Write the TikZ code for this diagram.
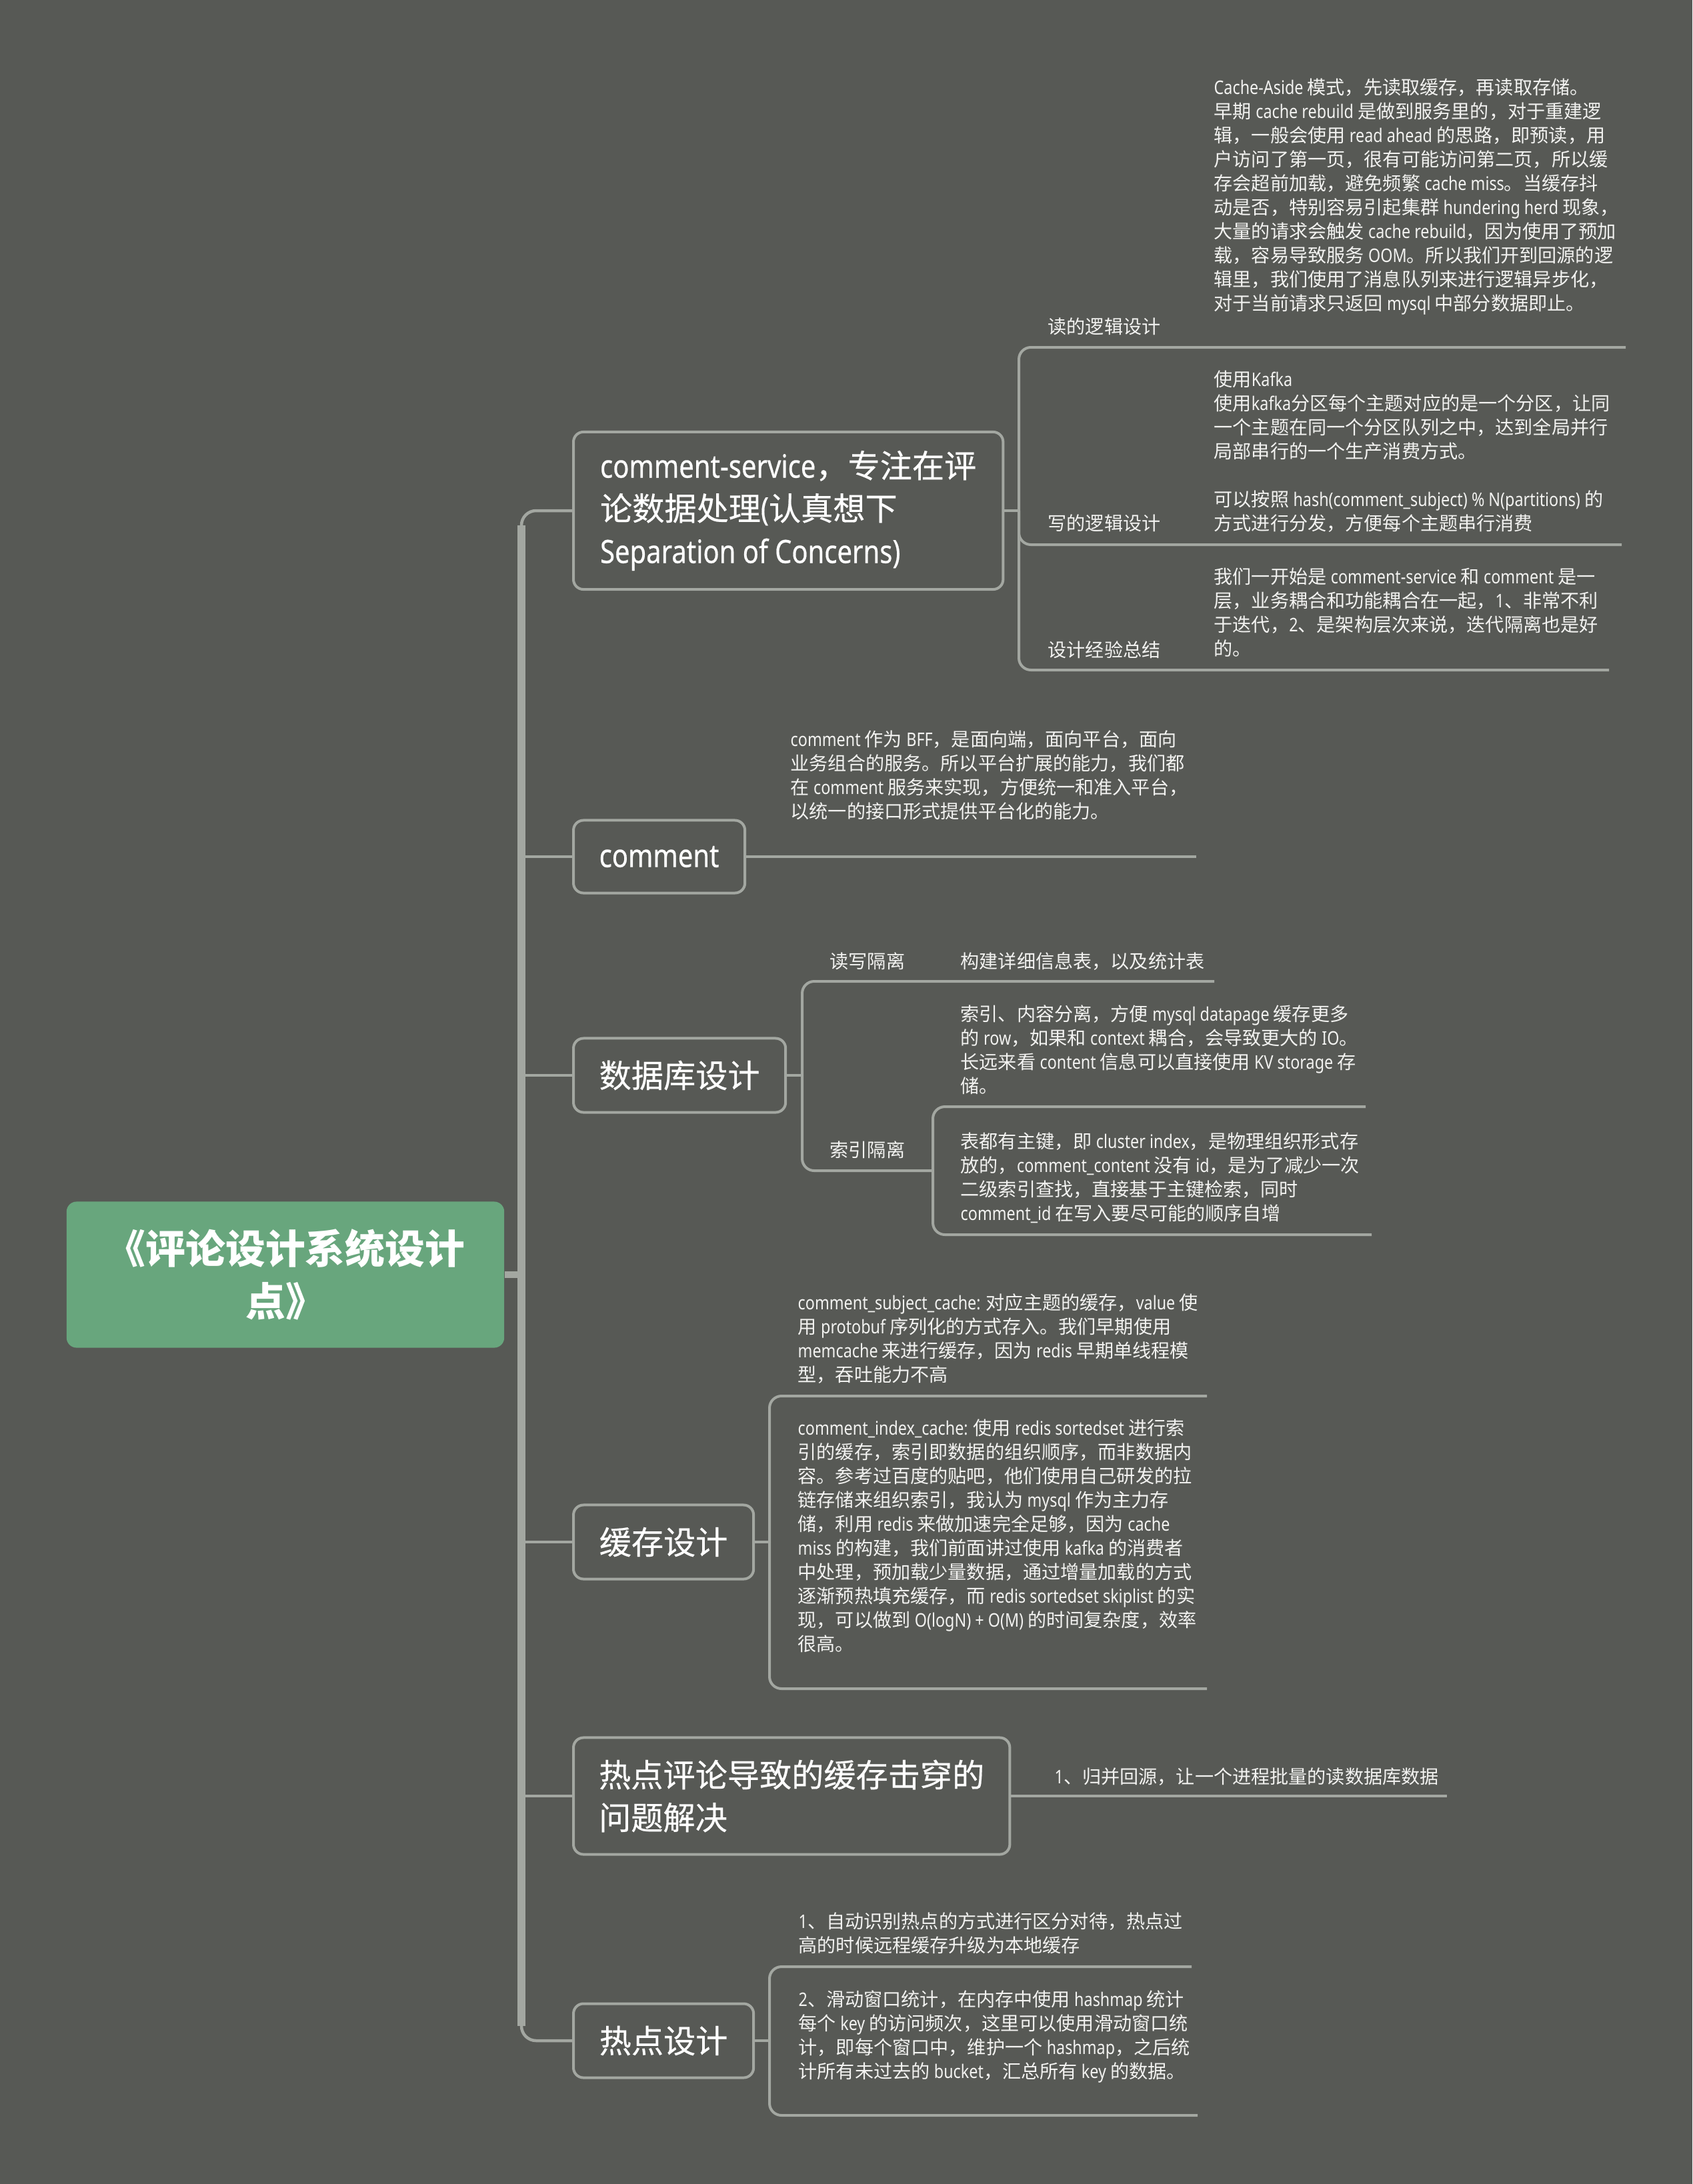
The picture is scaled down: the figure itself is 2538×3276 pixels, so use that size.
\documentclass[tikz,border=0pt]{standalone}
\usepackage{fontspec}
\setmainfont{Noto Sans}[FakeStretch=0.83]
\newfontfamily\latinfont{Noto Sans}[FakeStretch=0.83]
\newfontfamily\cjkfont{Noto Sans CJK SC}
\newfontfamily\latinheavy{Noto Sans}[FakeStretch=0.83,FakeBold=0.4]
\newfontfamily\cjkheavy{Noto Sans CJK SC}[FakeBold=0.4]
\let\latinsw\latinfont
\let\cjksw\cjkfont
\XeTeXinterchartokenstate=1
\newXeTeXintercharclass\cjkclass
\newcount\cjkcnt
\def\setcjkrange#1#2{\cjkcnt=#1 \loop\XeTeXcharclass\cjkcnt=\cjkclass\advance\cjkcnt by 1 \ifnum\cjkcnt<#2 \repeat}
\setcjkrange{"3000}{"3040}
\setcjkrange{"4E00}{"A000}
\setcjkrange{"FF00}{"FFF0}
\XeTeXinterchartoks 0 \cjkclass={\cjksw}
\XeTeXinterchartoks 4095 \cjkclass={\cjksw}
\XeTeXinterchartoks \cjkclass 0={\latinsw}
\XeTeXinterchartoks 4095 0={\latinsw}
\usetikzlibrary{positioning}
\definecolor{canvas}{RGB}{87,89,85}
\definecolor{wire}{RGB}{163,167,161}
\definecolor{rootgreen}{RGB}{104,166,125}
\definecolor{ink}{RGB}{242,242,240}
\tikzstyle{rootbox}=[fill=rootgreen,rounded corners=0.15cm,minimum width=6.56cm,minimum height=2.19cm,inner sep=0pt,align=center,text=white,font=\fontsize{17pt}{22.5pt}\selectfont\bfseries]
\tikzstyle{topic}=[draw=wire,line width=0.04cm,rounded corners=0.15cm,anchor=west,inner sep=0pt,align=left,text=white,font=\let\latinsw\latinheavy\let\cjksw\cjkheavy\latinsw\fontsize{13.7pt}{18.2pt}\selectfont]
\tikzstyle{memo}=[anchor=north west,yshift=0.02cm,inner sep=0pt,align=left,text=ink,font=\fontsize{8pt}{10.24pt}\selectfont]
\tikzstyle{tag}=[anchor=west,inner sep=0pt,text=ink,font=\fontsize{8pt}{10.24pt}\selectfont]
\tikzstyle{trunkline}=[wire,line width=0.12cm]
\tikzstyle{branchline}=[wire,line width=0.045cm]
\tikzstyle{subline}=[wire,line width=0.04cm]

\begin{document}
\begin{tikzpicture}[x=0.01cm,y=-0.01cm]

\fill[canvas] (0,0) rectangle (2538,3276);
\useasboundingbox (0,0) rectangle (2538,3276);

\node[rootbox] (root) at (428,1912) {《评论设计系统设计\\点》};

\node[topic,minimum width=6.44cm,minimum height=2.36cm] (cs) at (858,766) {comment-service，专注在评\\论数据处理(认真想下\\Separation of Concerns)};
\node[topic,minimum width=2.57cm,minimum height=1.09cm] (cm) at (858,1285) {comment};
\node[topic,minimum width=3.18cm,minimum height=1.11cm] (db) at (858,1613) {数据库设计};
\node[topic,minimum width=2.70cm,minimum height=1.11cm] (ca) at (858,2313) {缓存设计};
\node[topic,minimum width=6.54cm,minimum height=1.75cm] (hp) at (858,2694) {热点评论导致的缓存击穿的\\问题解决};
\node[topic,minimum width=2.70cm,minimum height=1.11cm] (hd) at (858,3061) {热点设计};

\coordinate (tk) at (782,1912);
\coordinate (ttop) at (782,788);
\coordinate (tbot) at (782,3039);
\draw[branchline,line width=0.1cm] (root.east) -- (tk);
\draw[branchline,rounded corners=0.22cm] (cs.west) -| (tk) |- (hd.west);
\draw[trunkline] (ttop) -- (tbot);
\draw[branchline] (cm.west -| tk) -- (cm.west);
\draw[branchline] (db.west -| tk) -- (db.west);
\draw[branchline] (ca.west -| tk) -- (ca.west);
\draw[branchline] (hp.west -| tk) -- (hp.west);

\node[tag] (readtag) at (1571,490) {读的逻辑设计};
\node[tag] (writetag) at (1571,785) {写的逻辑设计};
\node[tag] (sumtag) at (1571,975) {设计经验总结};
\node[memo] (readtxt) at (1820,119) {Cache-Aside 模式，先读取缓存，再读取存储。\\早期 cache rebuild 是做到服务里的，对于重建逻\\辑，一般会使用 read ahead 的思路，即预读，用\\户访问了第一页，很有可能访问第二页，所以缓\\存会超前加载，避免频繁 cache miss。当缓存抖\\动是否，特别容易引起集群 hundering herd 现象，\\大量的请求会触发 cache rebuild，因为使用了预加\\载，容易导致服务 OOM。所以我们开到回源的逻\\辑里，我们使用了消息队列来进行逻辑异步化，\\对于当前请求只返回 mysql 中部分数据即止。};
\node[memo] (writetxt) at (1820,557) {使用Kafka\\使用kafka分区每个主题对应的是一个分区，让同\\一个主题在同一个分区队列之中，达到全局并行\\局部串行的一个生产消费方式。\\[0.36cm]可以按照 hash(comment\_subject) \% N(partitions) 的\\方式进行分发，方便每个主题串行消费};
\node[memo] (sumtxt) at (1820,853) {我们一开始是 comment-service 和 comment 是一\\层，业务耦合和功能耦合在一起，1、非常不利\\于迭代，2、是架构层次来说，迭代隔离也是好\\的。};
\coordinate (b1) at (1528,766);
\coordinate (r1) at (2438,521);
\coordinate (r2) at (2432,817);
\coordinate (r3) at (2413,1005);
\draw[subline] (cs.east) -- (b1);
\draw[subline,rounded corners=0.18cm] (b1) |- (r1);
\draw[subline,rounded corners=0.18cm] (b1) |- (r2);
\draw[subline,rounded corners=0.18cm] (b1) |- (r3);

\node[memo] (bfftxt) at (1185,1097) {comment 作为 BFF，是面向端，面向平台，面向\\业务组合的服务。所以平台扩展的能力，我们都\\在 comment 服务来实现，方便统一和准入平台，\\以统一的接口形式提供平台化的能力。};
\coordinate (e2) at (1794,1285);
\draw[subline] (cm.east) -- (e2);

\node[tag] (rwtag) at (1244,1442) {读写隔离};
\node[tag] (rwtxt) at (1440,1442) {构建详细信息表，以及统计表};
\node[tag] (idxtag) at (1244,1725) {索引隔离};
\node[memo] (splittxt) at (1440,1509) {索引、内容分离，方便 mysql datapage 缓存更多\\的 row，如果和 context 耦合，会导致更大的 IO。\\长远来看 content 信息可以直接使用 KV storage 存\\储。};
\node[memo] (pktxt) at (1440,1700) {表都有主键，即 cluster index，是物理组织形式存\\放的，comment\_content 没有 id，是为了减少一次\\二级索引查找，直接基于主键检索，同时\\comment\_id 在写入要尽可能的顺序自增};
\coordinate (b3) at (1203,1613);
\coordinate (e31) at (1821,1472);
\coordinate (b32) at (1399,1756);
\coordinate (e321) at (2048,1660);
\coordinate (e322) at (2057,1852);
\draw[subline] (db.east) -- (b3);
\draw[subline,rounded corners=0.18cm] (b3) |- (e31);
\draw[subline,rounded corners=0.18cm] (b3) |- (b32);
\draw[subline,rounded corners=0.18cm] (b32) |- (e321);
\draw[subline,rounded corners=0.18cm] (b32) |- (e322);

\node[memo] (subjtxt) at (1196,1942) {comment\_subject\_cache: 对应主题的缓存，value 使\\用 protobuf 序列化的方式存入。我们早期使用\\memcache 来进行缓存，因为 redis 早期单线程模\\型，吞吐能力不高};
\node[memo] (idxtxt) at (1196,2130) {comment\_index\_cache: 使用 redis sortedset 进行索\\引的缓存，索引即数据的组织顺序，而非数据内\\容。参考过百度的贴吧，他们使用自己研发的拉\\链存储来组织索引，我认为 mysql 作为主力存\\储，利用 redis 来做加速完全足够，因为 cache\\miss 的构建，我们前面讲过使用 kafka 的消费者\\中处理，预加载少量数据，通过增量加载的方式\\逐渐预热填充缓存，而 redis sortedset skiplist 的实\\现，可以做到 O(logN) + O(M) 的时间复杂度，效率\\很高。};
\coordinate (b4) at (1154,2313);
\coordinate (e41) at (1810,2094);
\coordinate (e42) at (1810,2533);
\draw[subline] (ca.east) -- (b4);
\draw[subline,rounded corners=0.18cm] (b4) |- (e41);
\draw[subline,rounded corners=0.18cm] (b4) |- (e42);

\node[tag] (mergetxt) at (1581,2665) {1、归并回源，让一个进程批量的读数据库数据};
\coordinate (e5) at (2170,2694);
\draw[subline] (hp.east) -- (e5);

\node[memo] (autotxt) at (1197,2870) {1、自动识别热点的方式进行区分对待，热点过\\高的时候远程缓存升级为本地缓存};
\node[memo] (wintxt) at (1197,2987) {2、滑动窗口统计，在内存中使用 hashmap 统计\\每个 key 的访问频次，这里可以使用滑动窗口统\\计，即每个窗口中，维护一个 hashmap，之后统\\计所有未过去的 bucket，汇总所有 key 的数据。};
\coordinate (b6) at (1154,3061);
\coordinate (e61) at (1787,2950);
\coordinate (e62) at (1796,3173);
\draw[subline] (hd.east) -- (b6);
\draw[subline,rounded corners=0.18cm] (b6) |- (e61);
\draw[subline,rounded corners=0.18cm] (b6) |- (e62);

\end{tikzpicture}
\end{document}
